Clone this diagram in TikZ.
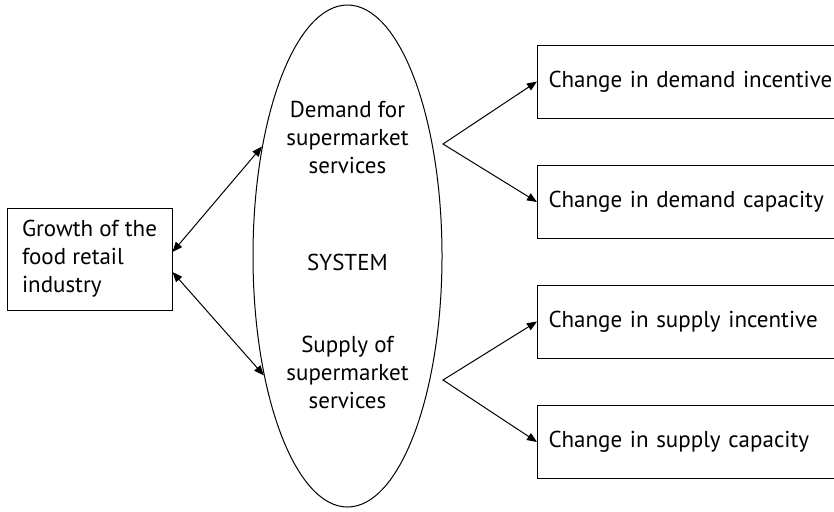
\documentclass[tikz,border=0pt]{standalone}
\usepackage{fontspec}
\setmainfont{PT Sans}
\usetikzlibrary{shapes.geometric,arrows.meta}
\begin{document}
\begin{tikzpicture}[
  x=0.5pt, y=-0.5pt,
  line width=0.5pt,
  font=\fontsize{11.5}{14}\selectfont,
  tip/.style = {Triangle[length=5pt,width=4pt]},
  box/.style = {shape=rectangle, draw, align=left, inner sep=0pt},
  change/.style = {box, anchor=west, minimum height=36.5pt,
    text width=170pt, inner xsep=5.5pt},
  link/.style = {{Triangle[length=5pt,width=4pt]}-{Triangle[length=5pt,width=4pt]}}
  ]
  \clip (0,0) rectangle (834,511);
  % left and centre
  \node[box, minimum width=82.5pt, minimum height=51pt] (growth) at (89.5,259)
    {Growth of the\\food retail\\industry};
  \node[shape=ellipse, draw, inner sep=0pt, minimum width=94.5pt,
    minimum height=251pt] (sys) at (347.5,256) {};
  \node (system) at (347.5,262) {SYSTEM};
  \node[align=center] (demand) at (347.5,137) {Demand for\\supermarket\\services};
  \node[align=center] (supply) at (347.5,372) {Supply of\\supermarket\\services};
  % right
  \node[change] (dinc) at (537,81.5) {Change in demand incentive};
  \node[change] (dcap) at (537,202) {Change in demand capacity};
  \node[change] (sinc) at (537,321.5) {Change in supply incentive};
  \node[change] (scap) at (537,442) {Change in supply capacity};
  \coordinate (dfork) at (443,144);
  \coordinate (sfork) at (443,380);
  % arrows
  \draw[link] ([yshift=3.5pt]growth.east) -- (sys.128);
  \draw[link] ([yshift=-6.5pt]growth.east) -- (sys.235);
  \draw[link] (dinc.west) -- (dfork) -- (dcap.west);
  \draw[link] (sinc.west) -- (sfork) -- (scap.west);
\end{tikzpicture}
\end{document}
